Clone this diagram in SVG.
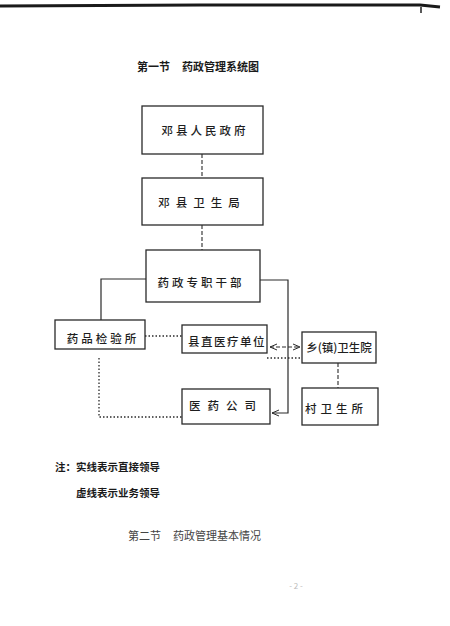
<svg xmlns="http://www.w3.org/2000/svg" width="450" height="626" viewBox="0 0 450 626">
<defs>
<style>
.box{fill:none;stroke:#2a2a2a;stroke-width:1.3}
.t{font-family:"Noto Sans CJK SC","Noto Sans CJK JP",sans-serif;fill:#1e1e1e;text-anchor:middle;dominant-baseline:central}
.bt{font-size:11.5px;font-weight:500}
.h{font-family:"Noto Sans CJK SC","Noto Sans CJK JP",sans-serif;fill:#1a1a1a;font-size:11px;font-weight:bold;dominant-baseline:central}
.solid{fill:none;stroke:#2a2a2a;stroke-width:1.2}
.dash{fill:none;stroke:#2a2a2a;stroke-width:1.1;stroke-dasharray:4 2}
.dot{fill:none;stroke:#2a2a2a;stroke-width:1.3;stroke-dasharray:1.5 2}
</style>
<marker id="ah" markerWidth="8" markerHeight="8" refX="7" refY="4" orient="auto" markerUnits="userSpaceOnUse">
<path d="M0,1 L7,4 L0,7" fill="none" stroke="#2a2a2a" stroke-width="1"/>
</marker>
<marker id="ah2" markerWidth="8" markerHeight="8" refX="0" refY="4" orient="auto" markerUnits="userSpaceOnUse">
<path d="M7,1 L0,4 L7,7" fill="none" stroke="#2a2a2a" stroke-width="1"/>
</marker>
</defs>
<rect width="450" height="626" fill="#fff"/>
<g id="page-edge">
<path d="M0,6 L200,5 L420,5 L440,7" fill="none" stroke="#1a1a1a" stroke-width="3"/>
<path d="M421,7 V13" stroke="#222" stroke-width="1.5"/>
</g>
<text class="h" x="137" y="66">第一节<tspan dx="12">药政管理系统图</tspan></text>

<g id="connectors">
<path class="dash" d="M202,154 V177"/>
<path class="dash" d="M202,225 V250"/>
<path class="solid" d="M146,279 H101 V320"/>
<path class="solid" d="M260,280 H288 V413 H272" marker-end="url(#ah)"/>
<path class="dot" d="M145,336 H182"/>
<path class="dash" d="M270,347 H300" marker-end="url(#ah)" marker-start="url(#ah2)"/>
<path class="dot" d="M267,358 H300"/>
<path class="dash" d="M338,363 V388"/>
<path class="dot" d="M99,358 V417 H182"/>
</g>

<g id="n-county-gov">
<rect class="box" x="142" y="106" width="121" height="48"/>
<text class="t bt" x="205" y="130" letter-spacing="3">邓县人民政府</text>
</g>
<g id="n-health-bureau">
<rect class="box" x="142" y="178" width="121" height="47"/>
<text class="t bt" x="202" y="202" letter-spacing="6">邓县卫生局</text>
</g>
<g id="n-pharma-cadre">
<rect class="box" x="146" y="250" width="114" height="52"/>
<text class="t bt" x="201" y="282" letter-spacing="3">药政专职干部</text>
</g>
<g id="n-drug-inspect">
<rect class="box" x="55" y="320" width="90" height="29"/>
<text class="t bt" x="103" y="338" letter-spacing="3">药品检验所</text>
</g>
<g id="n-county-medical">
<rect class="box" x="182" y="325" width="85" height="28"/>
<text class="t bt" x="227" y="341" letter-spacing="1.5">县直医疗单位</text>
</g>
<g id="n-township">
<rect class="box" x="302" y="332" width="74" height="31"/>
<text class="t bt" x="339" y="347">乡(镇)卫生院</text>
</g>
<g id="n-village">
<rect class="box" x="302" y="388" width="76" height="37"/>
<text class="t bt" x="336" y="408" letter-spacing="4">村卫生所</text>
</g>
<g id="n-pharma-company">
<rect class="box" x="182" y="389" width="88" height="35"/>
<text class="t bt" x="226" y="405" letter-spacing="7">医药公司</text>
</g>

<text class="h" x="55" y="466" style="font-size:10.5px">注：实线表示直接领导</text>
<text class="h" x="76" y="492" style="font-size:10.5px">虚线表示业务领导</text>
<text class="h" x="128" y="535" style="font-size:11px;font-weight:normal;fill:#444">第二节<tspan dx="12">药政管理基本情况</tspan></text>
<text class="h" x="296" y="585" style="font-size:8px;font-weight:normal;fill:#bbb;text-anchor:middle">- 2 -</text>
</svg>
